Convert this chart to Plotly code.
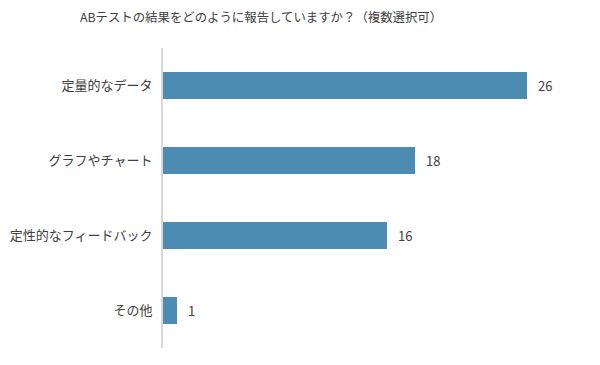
import plotly.graph_objects as go

categories = ["定量的なデータ", "グラフやチャート", "定性的なフィードバック", "その他"]
values = [26, 18, 16, 1]
title_text = "ABテストの結果をどのように報告していますか？（複数選択可）"

fig = go.Figure(go.Bar(
    x=values,
    y=categories,
    orientation="h",
    marker=dict(color="#4d8cb2", line=dict(width=0)),
    width=0.36,
    cliponaxis=False,
))

for c, v in zip(categories, values):
    fig.add_annotation(x=v, y=c, text=str(v), showarrow=False,
                       xanchor="left", xshift=9,
                       font=dict(size=13, color="#404040"))

fig.update_layout(
    width=600, height=365,
    paper_bgcolor="white", plot_bgcolor="white",
    font=dict(family="Noto Sans CJK JP", size=13, color="#404040"),
    title=dict(text=title_text, x=253 / 600, xanchor="center",
               y=1 - 10 / 365, yanchor="middle",
               font=dict(size=12.4, color="#404040")),
    margin=dict(l=155, r=25, t=40, b=25, autoexpand=False),
    showlegend=False,
    bargap=0,
)
fig.update_xaxes(range=[0, 30], visible=False)
fig.update_yaxes(
    autorange="reversed",
    showline=True, linecolor="#d9d9d9", linewidth=2,
    showgrid=False, zeroline=False,
    ticks="", ticklabelstandoff=6,
    tickfont=dict(size=13, color="#404040"),
)

fig.write_html("out.html")
